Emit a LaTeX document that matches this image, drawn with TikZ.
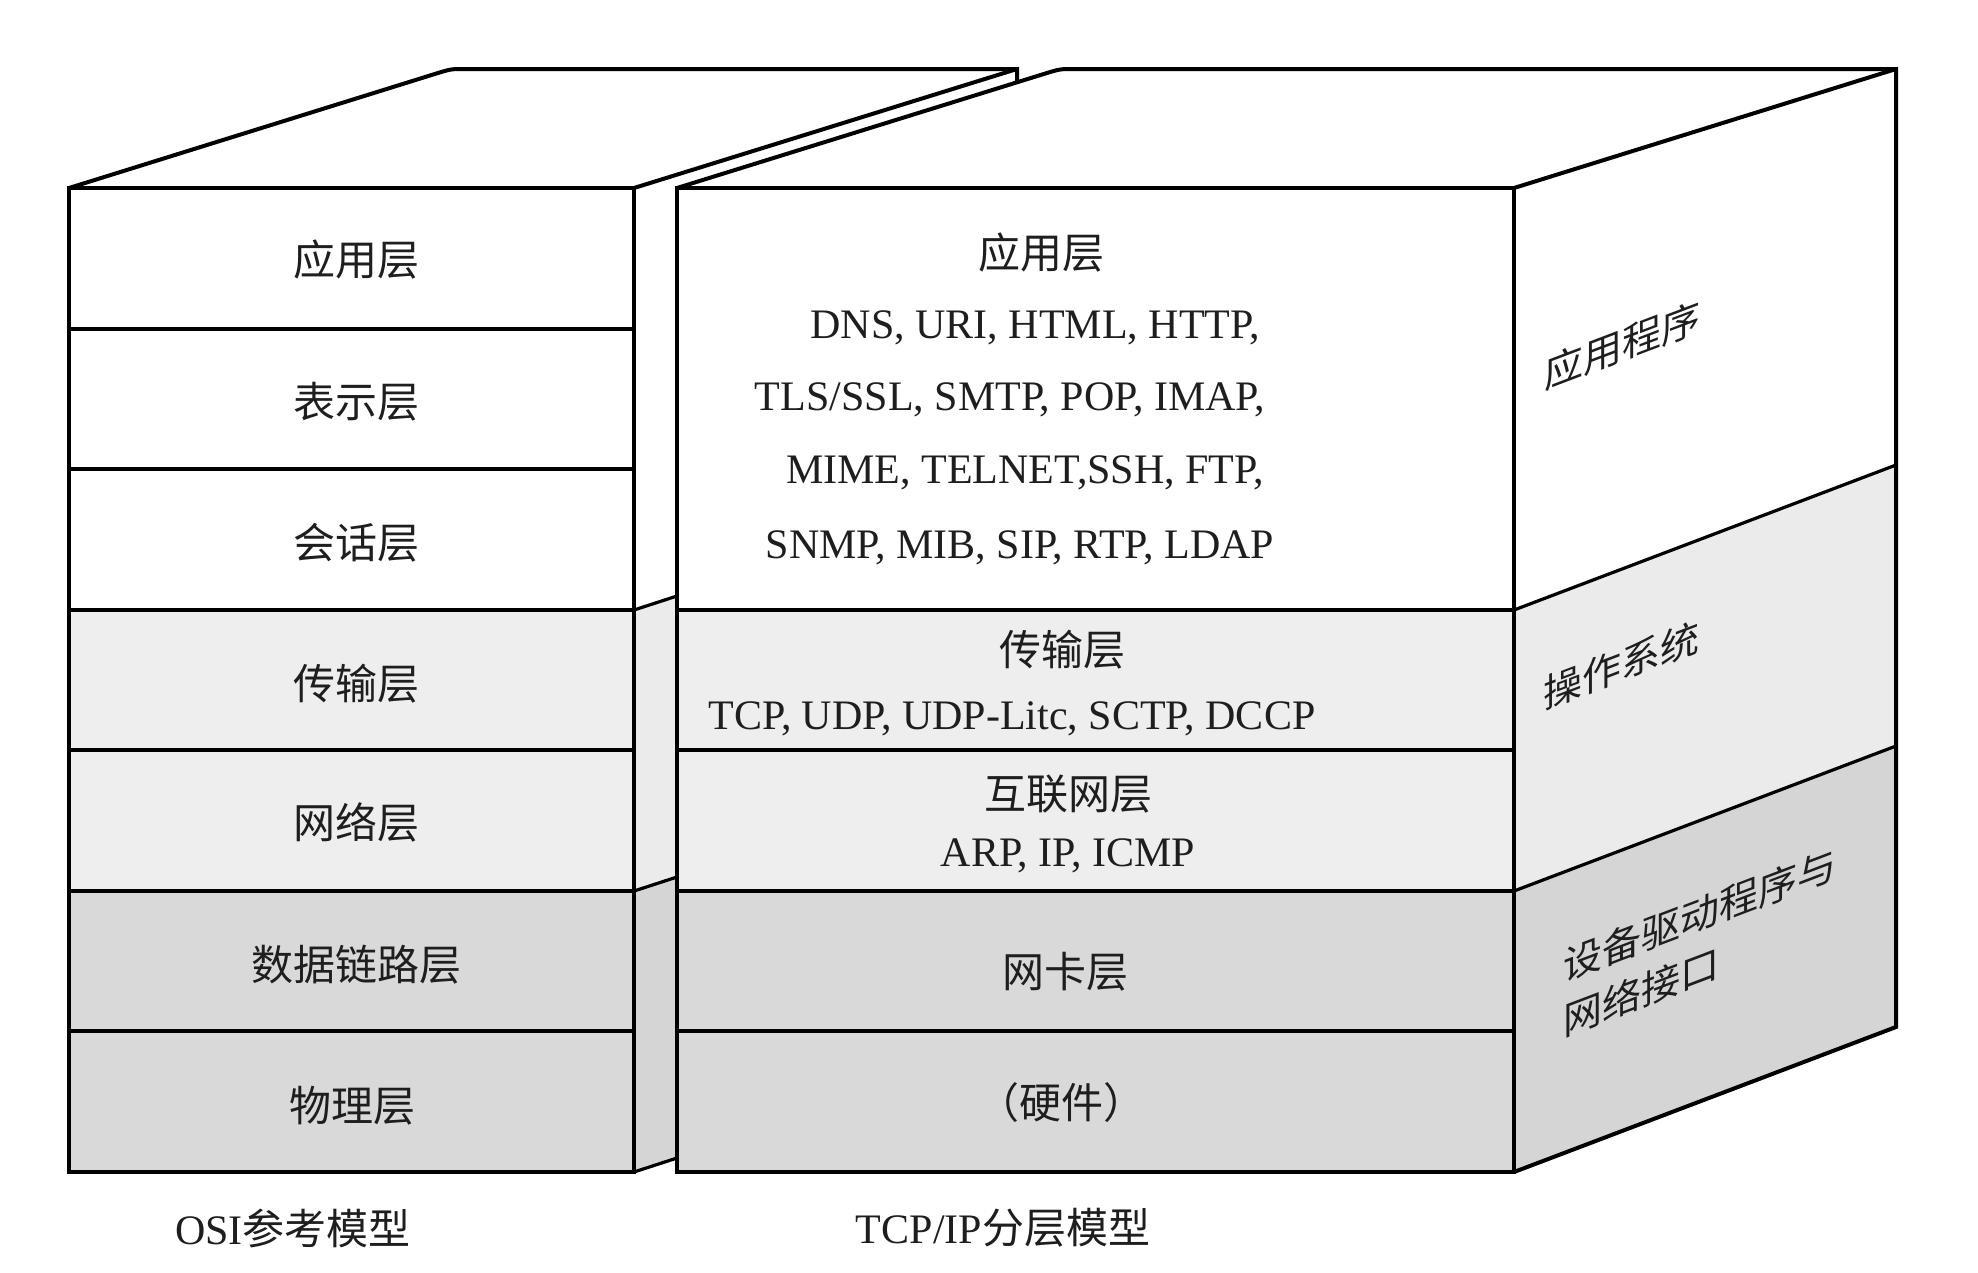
\documentclass[tikz,border=0pt]{standalone}
\usepackage{fontspec}
\setmainfont{Liberation Serif}
\newfontfamily\cjk{Noto Sans CJK SC}
\definecolor{lg}{HTML}{EEEEEE}
\definecolor{dg}{HTML}{D9D9D9}
\definecolor{sidemid}{HTML}{EBEBEB}
\definecolor{sidedark}{HTML}{D5D5D5}
\definecolor{ink}{HTML}{1E1E1E}
\tikzset{
  edge/.style={line width=4pt, draw=black},
  thinedge/.style={line width=3.2pt, draw=black},
  lab/.style={font=\cjk\fontsize{42}{50}\selectfont, text=ink, inner sep=0pt},
  proto/.style={font=\fontsize{42}{50}\selectfont, text=ink, inner sep=0pt},
  captext/.style={font=\fontsize{42}{50}\selectfont, text=ink, inner sep=0pt},
  side/.style={font=\cjk\fontsize{39}{55}\selectfont, text=ink, inner sep=0pt, yslant=0.38, align=left}
}
\begin{document}
\begin{tikzpicture}[x=1pt,y=-1pt]
\useasboundingbox (0,0) rectangle (1978,1272);
\fill[white] (0,0) rectangle (1978,1272);
% ---------- fills ----------
% OSI front
\fill[lg] (69,610) rectangle (634,891);
\fill[dg] (69,891) rectangle (634,1172);
% OSI visible side strip
\fill[white] (634,188) -- (677,175) -- (677,596) -- (634,610) -- cycle;
\fill[sidemid] (634,610) -- (677,596) -- (677,877) -- (634,891) -- cycle;
\fill[sidedark] (634,891) -- (677,877) -- (677,1158) -- (634,1172) -- cycle;
% TCP front
\fill[lg] (677,610) rectangle (1514,891);
\fill[dg] (677,891) rectangle (1514,1172);
% TCP right face
\fill[sidemid] (1514,610) -- (1896,465) -- (1896,746) -- (1514,891) -- cycle;
\fill[sidedark] (1514,891) -- (1896,746) -- (1896,1027) -- (1514,1172) -- cycle;
% ---------- OSI box lines ----------
\draw[edge] (69,188) rectangle (634,1172);
\foreach \yy in {329,469,610,750,891,1031} \draw[edge] (69,\yy) -- (634,\yy);
\draw[edge] (69,188) -- (436.7,73.4) .. controls (451,69) .. (466,69) -- (1017,69) -- (1017,82);
\draw[edge] (634,188) -- (1017,69);
\draw[thinedge] (634,610) -- (677,596);
\draw[thinedge] (634,891) -- (677,877);
\draw[thinedge] (634,1172) -- (677,1158);
% ---------- TCP box lines ----------
\draw[edge] (677,188) rectangle (1514,1172);
\foreach \yy in {610,750,891,1031} \draw[edge] (677,\yy) -- (1514,\yy);
\draw[edge] (677,188) -- (1045.7,73.4) .. controls (1060,69) .. (1075,69) -- (1896,69) -- (1896,1027) -- (1514,1172);
\draw[edge] (1514,188) -- (1896,69);
\draw[thinedge] (1514,610) -- (1896,465);
\draw[thinedge] (1514,891) -- (1896,746);
% ---------- OSI labels ----------
\node[lab] (osiA) at (356,260) {应用层};
\node[lab] (osiB) at (356,402) {表示层};
\node[lab] (osiC) at (356,543) {会话层};
\node[lab] (osiD) at (356,684) {传输层};
\node[lab] (osiE) at (356,822) {网络层};
\node[lab] (osiF) at (356,965) {数据链路层};
\node[lab] (osiG) at (352,1106) {物理层};
% ---------- TCP/IP labels ----------
\node[lab] (tcpapp) at (1041,253) {应用层};
\node[proto] (pa) at (1035,328) {DNS, URI, HTML, HTTP,};
\node[proto] (pb) at (1010,400) {TLS/SSL, SMTP, POP, IMAP,};
\node[proto] (pc) at (1025,473) {MIME, TELNET,SSH, FTP,};
\node[proto] (pd) at (1020,548) {SNMP, MIB, SIP, RTP, LDAP};
\node[lab] (tcptr) at (1062,650) {传输层};
\node[proto] (pe) at (1012,719) {TCP, UDP, UDP-Litc, SCTP, DCCP};
\node[lab] (tcpnet) at (1068,794) {互联网层};
\node[proto] (pf) at (1068,856) {ARP, IP, ICMP};
\node[lab] (tcpnic) at (1065,972) {网卡层};
\node[lab] (tcphw) at (1061,1103) {（硬件）};
% ---------- side labels ----------
\node[side] (sa) at (1622,345) {应用程序};
\node[side] (sb) at (1621,665) {操作系统};
\node[side] (sc) at (1700,942) {设备驱动程序与\\网络接口};
% ---------- captions ----------
\node[captext] (osicap) at (293,1228) {OSI{\cjk 参考模型}};
\node[captext] (tcpcap) at (1003,1228) {TCP/IP{\cjk 分层模型}};
\end{tikzpicture}
\end{document}
